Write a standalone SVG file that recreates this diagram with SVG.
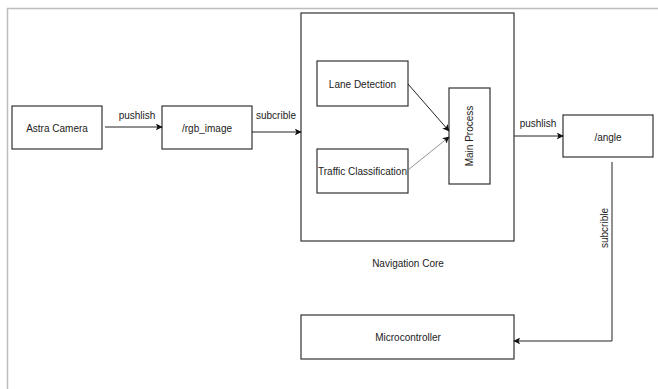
<svg xmlns="http://www.w3.org/2000/svg" width="658" height="389" viewBox="0 0 658 389">
<style>
.box{fill:#fff;stroke:#333;stroke-width:1.2}
.t{font-family:"Liberation Sans",Arial,sans-serif;font-size:10px;fill:#222;text-anchor:middle;dominant-baseline:central}
.c{fill:none;stroke:#222;stroke-width:1}
.g{fill:none;stroke:#777;stroke-width:0.8}
</style>
<defs>
<marker id="ah" viewBox="0 0 10 10" refX="9" refY="5" markerWidth="7" markerHeight="7" markerUnits="userSpaceOnUse" orient="auto"><path d="M0,0 L10,5 L0,10 L2.5,5 Z" fill="#111"/></marker>
</defs>
<rect width="658" height="389" fill="#fff"/>
<path d="M7.5,389 V8.5 H658" fill="none" stroke="#bdbdbd" stroke-width="1.5"/>
<g id="nav-core"><rect class="box" x="301" y="13" width="213" height="228"/><text class="t" x="408" y="263">Navigation Core</text></g>
<g id="astra"><rect class="box" x="12" y="106" width="90" height="43"/><text class="t" x="57" y="128">Astra Camera</text></g>
<g id="rgb"><rect class="box" x="162" y="106" width="90" height="43"/><text class="t" x="207" y="128">/rgb_image</text></g>
<g id="lane"><rect class="box" x="317" y="61" width="91" height="45"/><text class="t" x="362.5" y="84">Lane Detection</text></g>
<g id="traffic"><rect class="box" x="317" y="149" width="91" height="44"/><text class="t" x="362.5" y="171">Traffic Classification</text></g>
<g id="main"><rect class="box" x="449" y="88" width="41" height="96"/><text class="t" transform="translate(469.5,136) rotate(-90)">Main Process</text></g>
<g id="angle"><rect class="box" x="563" y="115" width="90" height="42"/><text class="t" x="608" y="137">/angle</text></g>
<g id="micro"><rect class="box" x="301" y="315" width="213" height="44"/><text class="t" x="408" y="337">Microcontroller</text></g>
<g id="connectors">
<path class="c" d="M105,127 H162" marker-end="url(#ah)"/>
<text class="t" x="137" y="115">pushlish</text>
<path class="c" d="M252,132 H301" marker-end="url(#ah)"/>
<text class="t" x="276" y="115">subcrible</text>
<path class="c" d="M408,84 L449,131" marker-end="url(#ah)"/>
<path class="g" d="M408,170 L449,137" marker-end="url(#ah)"/>
<path class="c" d="M514,136 H563" marker-end="url(#ah)"/>
<text class="t" x="538" y="123">pushlish</text>
<path class="c" d="M612,162 V341 H514" marker-end="url(#ah)"/>
<text class="t" transform="translate(604,228) rotate(-90)">subcrible</text>
</g>
</svg>
